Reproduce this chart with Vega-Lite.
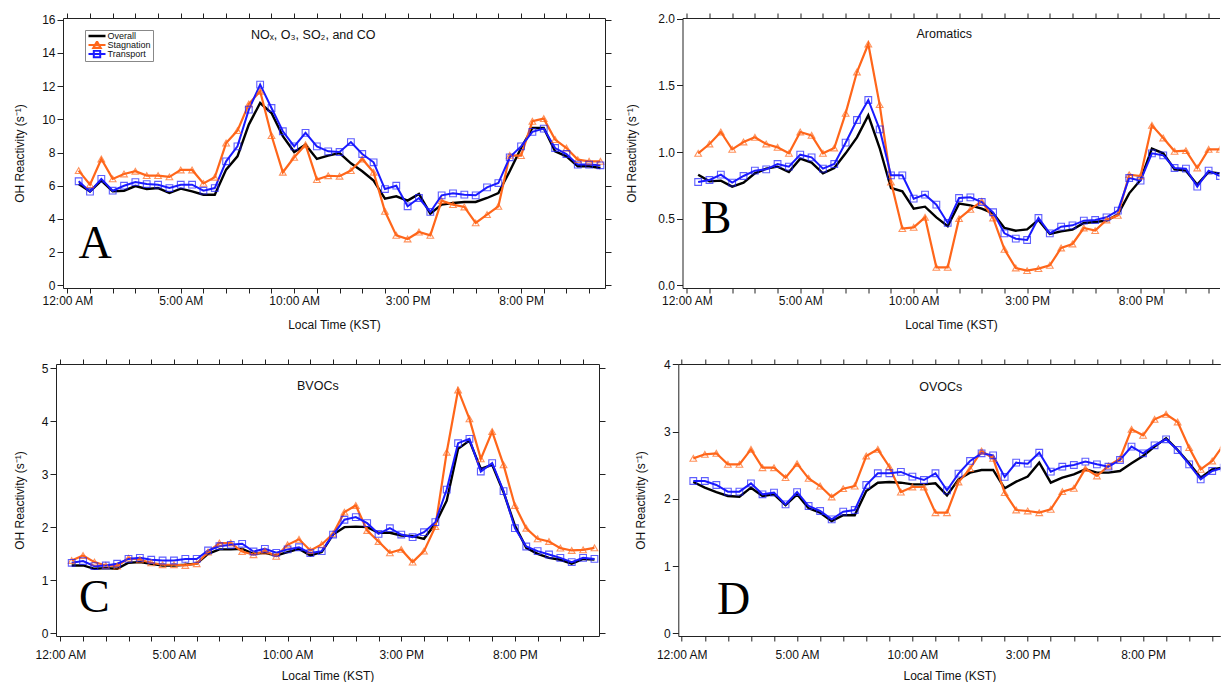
{
  "$schema": "https://vega.github.io/schema/vega-lite/v6.json",
  "padding": {"left": 0, "top": 12, "right": 0, "bottom": 0},
  "background": "white",
  "config": {
    "view": {"stroke": null},
    "font": "Liberation Sans",
    "axis": {"domainColor": "#222", "tickColor": "#222", "labelColor": "#111", "titleColor": "#111", "labelFont": "Liberation Sans", "titleFont": "Liberation Sans", "labelFontSize": 12, "titleFontSize": 12, "titleFontWeight": "normal", "grid": false, "labelFlush": false, "labelOverlap": false, "labelBound": false}
  },
  "datasets": {
    "A": [
      {"h":0.5,"Overall":6.10,"Stagnation":6.91,"Transport":6.27},{"h":1.0,"Overall":5.66,"Stagnation":6.06,"Transport":5.64},{"h":1.5,"Overall":6.31,"Stagnation":7.61,"Transport":6.41},{"h":2.0,"Overall":5.66,"Stagnation":6.41,"Transport":5.70},{"h":2.5,"Overall":5.70,"Stagnation":6.71,"Transport":6.00},{"h":3.0,"Overall":5.98,"Stagnation":6.87,"Transport":6.22},{"h":3.5,"Overall":5.80,"Stagnation":6.61,"Transport":6.10},{"h":4.0,"Overall":5.86,"Stagnation":6.61,"Transport":6.06},{"h":4.5,"Overall":5.56,"Stagnation":6.53,"Transport":5.86},{"h":5.0,"Overall":5.82,"Stagnation":6.95,"Transport":6.06},{"h":5.5,"Overall":5.66,"Stagnation":6.95,"Transport":6.06},{"h":6.0,"Overall":5.46,"Stagnation":6.14,"Transport":5.70},{"h":6.5,"Overall":5.46,"Stagnation":6.51,"Transport":5.86},{"h":7.0,"Overall":6.97,"Stagnation":8.57,"Transport":7.47},{"h":7.5,"Overall":7.77,"Stagnation":9.32,"Transport":8.37},{"h":8.0,"Overall":9.68,"Stagnation":10.92,"Transport":10.58},{"h":8.5,"Overall":10.98,"Stagnation":11.69,"Transport":12.09},{"h":9.0,"Overall":10.38,"Stagnation":9.02,"Transport":10.68},{"h":9.5,"Overall":8.98,"Stagnation":6.81,"Transport":9.28},{"h":10.0,"Overall":8.03,"Stagnation":7.71,"Transport":8.37},{"h":10.5,"Overall":8.47,"Stagnation":8.47,"Transport":9.18},{"h":11.0,"Overall":7.61,"Stagnation":6.37,"Transport":8.37},{"h":11.5,"Overall":7.81,"Stagnation":6.60,"Transport":8.07},{"h":12.0,"Overall":7.97,"Stagnation":6.57,"Transport":8.03},{"h":12.5,"Overall":7.35,"Stagnation":6.91,"Transport":8.63},{"h":13.0,"Overall":6.87,"Stagnation":7.61,"Transport":7.91},{"h":13.5,"Overall":6.31,"Stagnation":6.81,"Transport":7.41},{"h":14.0,"Overall":5.22,"Stagnation":4.46,"Transport":5.80},{"h":14.5,"Overall":5.36,"Stagnation":3.01,"Transport":6.00},{"h":15.0,"Overall":5.10,"Stagnation":2.79,"Transport":4.76},{"h":15.5,"Overall":5.50,"Stagnation":3.21,"Transport":5.26},{"h":16.0,"Overall":4.32,"Stagnation":3.01,"Transport":4.42},{"h":16.5,"Overall":4.86,"Stagnation":5.10,"Transport":5.42},{"h":17.0,"Overall":4.96,"Stagnation":4.86,"Transport":5.54},{"h":17.5,"Overall":5.02,"Stagnation":4.72,"Transport":5.46},{"h":18.0,"Overall":5.02,"Stagnation":3.76,"Transport":5.42},{"h":18.5,"Overall":5.26,"Stagnation":4.26,"Transport":5.90},{"h":19.0,"Overall":5.56,"Stagnation":4.76,"Transport":6.16},{"h":19.5,"Overall":6.87,"Stagnation":7.83,"Transport":7.71},{"h":20.0,"Overall":8.27,"Stagnation":7.81,"Transport":8.37},{"h":20.5,"Overall":9.48,"Stagnation":9.88,"Transport":9.24},{"h":21.0,"Overall":9.48,"Stagnation":10.04,"Transport":9.44},{"h":21.5,"Overall":8.07,"Stagnation":8.78,"Transport":8.27},{"h":22.0,"Overall":7.77,"Stagnation":8.27,"Transport":7.91},{"h":22.5,"Overall":7.17,"Stagnation":7.57,"Transport":7.27},{"h":23.0,"Overall":7.17,"Stagnation":7.47,"Transport":7.27},{"h":23.5,"Overall":7.07,"Stagnation":7.47,"Transport":7.23}
    ],
    "B": [
      {"h":0.5,"Overall":0.83,"Stagnation":0.99,"Transport":0.775},{"h":1.0,"Overall":0.78,"Stagnation":1.06,"Transport":0.79},{"h":1.5,"Overall":0.785,"Stagnation":1.15,"Transport":0.83},{"h":2.0,"Overall":0.74,"Stagnation":1.02,"Transport":0.77},{"h":2.5,"Overall":0.77,"Stagnation":1.075,"Transport":0.82},{"h":3.0,"Overall":0.84,"Stagnation":1.11,"Transport":0.86},{"h":3.5,"Overall":0.875,"Stagnation":1.06,"Transport":0.87},{"h":4.0,"Overall":0.89,"Stagnation":1.035,"Transport":0.91},{"h":4.5,"Overall":0.85,"Stagnation":0.99,"Transport":0.89},{"h":5.0,"Overall":0.95,"Stagnation":1.15,"Transport":0.98},{"h":5.5,"Overall":0.92,"Stagnation":1.125,"Transport":0.96},{"h":6.0,"Overall":0.84,"Stagnation":0.99,"Transport":0.875},{"h":6.5,"Overall":0.88,"Stagnation":1.03,"Transport":0.91},{"h":7.0,"Overall":0.99,"Stagnation":1.29,"Transport":1.07},{"h":7.5,"Overall":1.11,"Stagnation":1.60,"Transport":1.24},{"h":8.0,"Overall":1.275,"Stagnation":1.81,"Transport":1.39},{"h":8.5,"Overall":1.03,"Stagnation":1.355,"Transport":1.17},{"h":9.0,"Overall":0.73,"Stagnation":0.775,"Transport":0.825},{"h":9.5,"Overall":0.705,"Stagnation":0.425,"Transport":0.825},{"h":10.0,"Overall":0.575,"Stagnation":0.435,"Transport":0.65},{"h":10.5,"Overall":0.59,"Stagnation":0.51,"Transport":0.68},{"h":11.0,"Overall":0.51,"Stagnation":0.135,"Transport":0.605},{"h":11.5,"Overall":0.443,"Stagnation":0.135,"Transport":0.468},{"h":12.0,"Overall":0.613,"Stagnation":0.50,"Transport":0.655},{"h":12.5,"Overall":0.60,"Stagnation":0.57,"Transport":0.66},{"h":13.0,"Overall":0.575,"Stagnation":0.63,"Transport":0.625},{"h":13.5,"Overall":0.54,"Stagnation":0.505,"Transport":0.548},{"h":14.0,"Overall":0.43,"Stagnation":0.27,"Transport":0.39},{"h":14.5,"Overall":0.41,"Stagnation":0.13,"Transport":0.35},{"h":15.0,"Overall":0.42,"Stagnation":0.11,"Transport":0.34},{"h":15.5,"Overall":0.49,"Stagnation":0.125,"Transport":0.505},{"h":16.0,"Overall":0.385,"Stagnation":0.15,"Transport":0.39},{"h":16.5,"Overall":0.405,"Stagnation":0.28,"Transport":0.44},{"h":17.0,"Overall":0.418,"Stagnation":0.31,"Transport":0.45},{"h":17.5,"Overall":0.468,"Stagnation":0.43,"Transport":0.485},{"h":18.0,"Overall":0.475,"Stagnation":0.41,"Transport":0.49},{"h":18.5,"Overall":0.485,"Stagnation":0.49,"Transport":0.51},{"h":19.0,"Overall":0.53,"Stagnation":0.525,"Transport":0.56},{"h":19.5,"Overall":0.69,"Stagnation":0.83,"Transport":0.805},{"h":20.0,"Overall":0.79,"Stagnation":0.82,"Transport":0.785},{"h":20.5,"Overall":1.025,"Stagnation":1.20,"Transport":0.99},{"h":21.0,"Overall":0.99,"Stagnation":1.105,"Transport":0.975},{"h":21.5,"Overall":0.87,"Stagnation":1.005,"Transport":0.88},{"h":22.0,"Overall":0.86,"Stagnation":1.01,"Transport":0.875},{"h":22.5,"Overall":0.755,"Stagnation":0.88,"Transport":0.74},{"h":23.0,"Overall":0.85,"Stagnation":1.02,"Transport":0.86},{"h":23.5,"Overall":0.84,"Stagnation":1.02,"Transport":0.82}
    ],
    "C": [
      {"h":0.5,"Overall":1.277,"Stagnation":1.37,"Transport":1.327},{"h":1.0,"Overall":1.277,"Stagnation":1.465,"Transport":1.36},{"h":1.5,"Overall":1.214,"Stagnation":1.34,"Transport":1.264},{"h":2.0,"Overall":1.226,"Stagnation":1.277,"Transport":1.277},{"h":2.5,"Overall":1.214,"Stagnation":1.264,"Transport":1.31},{"h":3.0,"Overall":1.327,"Stagnation":1.415,"Transport":1.40},{"h":3.5,"Overall":1.34,"Stagnation":1.384,"Transport":1.42},{"h":4.0,"Overall":1.31,"Stagnation":1.327,"Transport":1.384},{"h":4.5,"Overall":1.277,"Stagnation":1.29,"Transport":1.37},{"h":5.0,"Overall":1.277,"Stagnation":1.29,"Transport":1.37},{"h":5.5,"Overall":1.29,"Stagnation":1.277,"Transport":1.40},{"h":6.0,"Overall":1.31,"Stagnation":1.31,"Transport":1.40},{"h":6.5,"Overall":1.497,"Stagnation":1.53,"Transport":1.56},{"h":7.0,"Overall":1.58,"Stagnation":1.70,"Transport":1.64},{"h":7.5,"Overall":1.58,"Stagnation":1.70,"Transport":1.667},{"h":8.0,"Overall":1.59,"Stagnation":1.54,"Transport":1.686},{"h":8.5,"Overall":1.497,"Stagnation":1.48,"Transport":1.54},{"h":9.0,"Overall":1.516,"Stagnation":1.55,"Transport":1.59},{"h":9.5,"Overall":1.465,"Stagnation":1.45,"Transport":1.516},{"h":10.0,"Overall":1.53,"Stagnation":1.667,"Transport":1.58},{"h":10.5,"Overall":1.59,"Stagnation":1.77,"Transport":1.62},{"h":11.0,"Overall":1.465,"Stagnation":1.56,"Transport":1.51},{"h":11.5,"Overall":1.53,"Stagnation":1.673,"Transport":1.547},{"h":12.0,"Overall":1.86,"Stagnation":1.874,"Transport":1.86},{"h":12.5,"Overall":2.0,"Stagnation":2.283,"Transport":2.14},{"h":13.0,"Overall":2.01,"Stagnation":2.41,"Transport":2.19},{"h":13.5,"Overall":2.0,"Stagnation":1.937,"Transport":2.075},{"h":14.0,"Overall":1.893,"Stagnation":1.73,"Transport":1.874},{"h":14.5,"Overall":1.893,"Stagnation":1.516,"Transport":1.98},{"h":15.0,"Overall":1.843,"Stagnation":1.58,"Transport":1.86},{"h":15.5,"Overall":1.83,"Stagnation":1.34,"Transport":1.81},{"h":16.0,"Overall":1.78,"Stagnation":1.547,"Transport":1.905},{"h":16.5,"Overall":2.063,"Stagnation":2.01,"Transport":2.094},{"h":17.0,"Overall":2.50,"Stagnation":3.415,"Transport":2.71},{"h":17.5,"Overall":3.478,"Stagnation":4.59,"Transport":3.585},{"h":18.0,"Overall":3.635,"Stagnation":4.044,"Transport":3.667},{"h":18.5,"Overall":3.10,"Stagnation":3.29,"Transport":3.05},{"h":19.0,"Overall":3.176,"Stagnation":3.805,"Transport":3.21},{"h":19.5,"Overall":2.66,"Stagnation":3.176,"Transport":2.68},{"h":20.0,"Overall":2.03,"Stagnation":2.41,"Transport":1.98},{"h":20.5,"Overall":1.61,"Stagnation":1.98,"Transport":1.635},{"h":21.0,"Overall":1.497,"Stagnation":1.78,"Transport":1.547},{"h":21.5,"Overall":1.42,"Stagnation":1.73,"Transport":1.484},{"h":22.0,"Overall":1.384,"Stagnation":1.604,"Transport":1.42},{"h":22.5,"Overall":1.31,"Stagnation":1.56,"Transport":1.34},{"h":23.0,"Overall":1.40,"Stagnation":1.572,"Transport":1.42},{"h":23.5,"Overall":1.39,"Stagnation":1.61,"Transport":1.40}
    ],
    "D": [
      {"h":0.5,"Overall":2.25,"Stagnation":2.602,"Transport":2.265},{"h":1.0,"Overall":2.166,"Stagnation":2.662,"Transport":2.265},{"h":1.5,"Overall":2.10,"Stagnation":2.677,"Transport":2.206},{"h":2.0,"Overall":2.042,"Stagnation":2.513,"Transport":2.107},{"h":2.5,"Overall":2.032,"Stagnation":2.513,"Transport":2.107},{"h":3.0,"Overall":2.166,"Stagnation":2.736,"Transport":2.23},{"h":3.5,"Overall":2.042,"Stagnation":2.463,"Transport":2.067},{"h":4.0,"Overall":2.067,"Stagnation":2.463,"Transport":2.092},{"h":4.5,"Overall":1.908,"Stagnation":2.315,"Transport":1.918},{"h":5.0,"Overall":2.067,"Stagnation":2.523,"Transport":2.10},{"h":5.5,"Overall":1.859,"Stagnation":2.305,"Transport":1.893},{"h":6.0,"Overall":1.794,"Stagnation":2.19,"Transport":1.819},{"h":6.5,"Overall":1.67,"Stagnation":2.027,"Transport":1.695},{"h":7.0,"Overall":1.755,"Stagnation":2.151,"Transport":1.809},{"h":7.5,"Overall":1.755,"Stagnation":2.19,"Transport":1.834},{"h":8.0,"Overall":2.116,"Stagnation":2.637,"Transport":2.206},{"h":8.5,"Overall":2.24,"Stagnation":2.736,"Transport":2.38},{"h":9.0,"Overall":2.25,"Stagnation":2.478,"Transport":2.38},{"h":9.5,"Overall":2.24,"Stagnation":2.10,"Transport":2.40},{"h":10.0,"Overall":2.215,"Stagnation":2.176,"Transport":2.33},{"h":10.5,"Overall":2.215,"Stagnation":2.176,"Transport":2.28},{"h":11.0,"Overall":2.23,"Stagnation":1.794,"Transport":2.38},{"h":11.5,"Overall":2.052,"Stagnation":1.794,"Transport":2.126},{"h":12.0,"Overall":2.29,"Stagnation":2.25,"Transport":2.374},{"h":12.5,"Overall":2.389,"Stagnation":2.449,"Transport":2.563},{"h":13.0,"Overall":2.429,"Stagnation":2.711,"Transport":2.677},{"h":13.5,"Overall":2.429,"Stagnation":2.602,"Transport":2.647},{"h":14.0,"Overall":2.156,"Stagnation":2.092,"Transport":2.325},{"h":14.5,"Overall":2.255,"Stagnation":1.834,"Transport":2.538},{"h":15.0,"Overall":2.33,"Stagnation":1.819,"Transport":2.523},{"h":15.5,"Overall":2.538,"Stagnation":1.794,"Transport":2.686},{"h":16.0,"Overall":2.24,"Stagnation":1.844,"Transport":2.404},{"h":16.5,"Overall":2.315,"Stagnation":2.107,"Transport":2.478},{"h":17.0,"Overall":2.364,"Stagnation":2.156,"Transport":2.503},{"h":17.5,"Overall":2.439,"Stagnation":2.449,"Transport":2.553},{"h":18.0,"Overall":2.389,"Stagnation":2.34,"Transport":2.513},{"h":18.5,"Overall":2.389,"Stagnation":2.488,"Transport":2.478},{"h":19.0,"Overall":2.414,"Stagnation":2.597,"Transport":2.577},{"h":19.5,"Overall":2.528,"Stagnation":3.033,"Transport":2.776},{"h":20.0,"Overall":2.637,"Stagnation":2.944,"Transport":2.677},{"h":20.5,"Overall":2.776,"Stagnation":3.182,"Transport":2.796},{"h":21.0,"Overall":2.90,"Stagnation":3.257,"Transport":2.885},{"h":21.5,"Overall":2.726,"Stagnation":3.143,"Transport":2.726},{"h":22.0,"Overall":2.528,"Stagnation":2.761,"Transport":2.513},{"h":22.5,"Overall":2.315,"Stagnation":2.439,"Transport":2.29},{"h":23.0,"Overall":2.439,"Stagnation":2.563,"Transport":2.414},{"h":23.5,"Overall":2.463,"Stagnation":2.81,"Transport":2.463}
    ]
  },
  "resolve": {"scale": {"color": "independent", "shape": "independent", "strokeWidth": "independent"}, "legend": {"color": "independent", "shape": "independent", "strokeWidth": "independent"}},
  "spacing": 28,
  "vconcat": [
    {
      "spacing": 12,
      "resolve": {"scale": {"color": "independent", "shape": "independent", "strokeWidth": "independent"}, "legend": {"color": "independent", "shape": "independent", "strokeWidth": "independent"}},
      "hconcat": [
        {"width": 1, "height": 1, "data": {"values": []}, "mark": "point"},
        {
          "spacing": 13.5,
          "resolve": {"scale": {"color": "independent", "shape": "independent", "strokeWidth": "independent"}, "legend": {"color": "independent", "shape": "independent", "strokeWidth": "independent"}},
          "hconcat": [
            {
              "width": 542, "height": 270,
              "data": {"name": "A"},
              "title": {"text": "NOₓ, O₃, SO₂, and CO", "anchor": "start", "frame": "group", "dx": 188, "offset": -35, "baseline": "middle", "fontSize": 12.5, "fontWeight": "normal", "font": "Liberation Sans", "color": "#111"},
              "layer": [
                {
                  "transform": [{"fold": ["Overall", "Stagnation", "Transport"], "as": ["s", "v"]}],
                  "mark": {"type": "line", "clip": true},
                  "encoding": {
                    "x": {"field": "h", "type": "quantitative", "scale": {"domain": [-0.19, 23.7], "nice": false, "zero": false}, "axis": {"orient": "bottom", "values": [0,1,2,3,4,5,6,7,8,9,10,11,12,13,14,15,16,17,18,19,20,21,22,23], "labelExpr": "datum.value == 0 ? '12:00 AM' : datum.value == 5 ? '5:00 AM' : datum.value == 10 ? '10:00 AM' : datum.value == 15 ? '3:00 PM' : datum.value == 20 ? '8:00 PM' : ''", "title": "Local Time (KST)", "tickSize": 5, "labelPadding": 2, "titlePadding": 13}},
                    "y": {"field": "v", "type": "quantitative", "scale": {"domain": [-0.16, 16.1], "nice": false, "zero": false}, "axis": {"orient": "left", "values": [0,2,4,6,8,10,12,14,16], "title": "OH Reactivity (s⁻¹)", "tickSize": 6, "labelPadding": 2, "titlePadding": 15.5}},
                    "color": {"field": "s", "type": "nominal", "scale": {"domain": ["Overall", "Stagnation", "Transport"], "range": ["#000000", "#ff661a", "#1a1aff"]},
                      "legend": {"orient": "none", "legendX": 22, "legendY": 12, "title": null, "strokeColor": "#888", "fillColor": "white", "padding": 2, "labelFont": "Liberation Sans", "labelFontSize": 9, "labelColor": "#111", "symbolSize": 64, "symbolOffset": 4.5, "labelOffset": 5, "rowPadding": 0, "clipHeight": 8, "symbolStrokeWidth": 1.4, "symbolFillColor": "transparent",
                        "encode": {"symbols": {"update": {"shape": {"signal": "datum.value === 'Overall' ? 'M-2.125,0H2.125' : datum.value === 'Stagnation' ? 'M-2.125,0H2.125M0,-0.85L0.9,0.7L-0.9,0.7Z' : 'M-2.125,0H2.125M-0.8,-0.8H0.8V0.8H-0.8Z'"}, "fill": {"value": "transparent"}}}}}},
                    "strokeWidth": {"field": "s", "type": "nominal", "scale": {"domain": ["Overall", "Stagnation", "Transport"], "range": [2.4, 2.0, 2.6]}, "legend": null}
                  }
                },
                {
                  "transform": [{"fold": ["Overall", "Stagnation", "Transport"], "as": ["s", "v"]}, {"filter": "datum.s != 'Overall'"}],
                  "mark": {"type": "point", "filled": false, "clip": true, "size": 45, "strokeWidth": 1.1},
                  "encoding": {
                    "x": {"field": "h", "type": "quantitative", "axis": {"orient": "top", "values": [0,1,2,3,4,5,6,7,8,9,10,11,12,13,14,15,16,17,18,19,20,21,22,23], "labels": false, "title": null, "tickSize": 5}},
                    "y": {"field": "v", "type": "quantitative", "axis": {"orient": "right", "values": [0,2,4,6,8,10,12,14,16], "labels": false, "title": null, "tickSize": 6}},
                    "color": {"field": "s", "type": "nominal"},
                    "shape": {"field": "s", "type": "nominal", "scale": {"domain": ["Stagnation", "Transport"], "range": ["triangle-up", "square"]}, "legend": null}
                  }
                },
                {
                  "data": {"values": [{"label": "A"}]},
                  "mark": {"type": "text", "font": "Liberation Serif", "fontSize": 46, "baseline": "alphabetic", "align": "center", "color": "#000"},
                  "encoding": {"text": {"field": "label"}, "x": {"datum": 1.23, "axis": null}, "y": {"datum": 1.64, "axis": null}}
                }
              ],
              "resolve": {"axis": {"x": "independent", "y": "independent"}}
            },
            {
              "width": 537, "height": 270,
              "data": {"name": "B"},
              "title": {"text": "Aromatics", "anchor": "start", "frame": "group", "dx": 234, "offset": -34, "baseline": "middle", "fontSize": 12.5, "fontWeight": "normal", "font": "Liberation Sans", "color": "#111"},
              "layer": [
                {
                  "transform": [{"fold": ["Overall", "Stagnation", "Transport"], "as": ["s", "v"]}],
                  "mark": {"type": "line", "clip": true},
                  "encoding": {
                    "x": {"field": "h", "type": "quantitative", "scale": {"domain": [-0.19, 23.48], "nice": false, "zero": false}, "axis": {"orient": "bottom", "values": [0,1,2,3,4,5,6,7,8,9,10,11,12,13,14,15,16,17,18,19,20,21,22,23], "labelExpr": "datum.value == 0 ? '12:00 AM' : datum.value == 5 ? '5:00 AM' : datum.value == 10 ? '10:00 AM' : datum.value == 15 ? '3:00 PM' : datum.value == 20 ? '8:00 PM' : ''", "title": "Local Time (KST)", "tickSize": 5, "labelPadding": 2, "titlePadding": 13}},
                    "y": {"field": "v", "type": "quantitative", "scale": {"domain": [-0.02, 2.005], "nice": false, "zero": false}, "axis": {"orient": "left", "values": [0, 0.5, 1, 1.5, 2], "format": ".1f", "title": "OH Reactivity (s⁻¹)", "tickSize": 6, "labelPadding": 2, "titlePadding": 18.9}},
                    "color": {"field": "s", "type": "nominal", "scale": {"domain": ["Overall", "Stagnation", "Transport"], "range": ["#000000", "#ff661a", "#1a1aff"]}, "legend": null},
                    "strokeWidth": {"field": "s", "type": "nominal", "scale": {"domain": ["Overall", "Stagnation", "Transport"], "range": [2.4, 2.0, 2.6]}, "legend": null}
                  }
                },
                {
                  "transform": [{"fold": ["Overall", "Stagnation", "Transport"], "as": ["s", "v"]}, {"filter": "datum.s != 'Overall'"}],
                  "mark": {"type": "point", "filled": false, "clip": true, "size": 45, "strokeWidth": 1.1},
                  "encoding": {
                    "x": {"field": "h", "type": "quantitative", "axis": {"orient": "top", "values": [0,1,2,3,4,5,6,7,8,9,10,11,12,13,14,15,16,17,18,19,20,21,22,23], "labels": false, "title": null, "tickSize": 5}},
                    "y": {"field": "v", "type": "quantitative", "axis": null},
                    "color": {"field": "s", "type": "nominal", "legend": null},
                    "shape": {"field": "s", "type": "nominal", "scale": {"domain": ["Stagnation", "Transport"], "range": ["triangle-up", "square"]}, "legend": null}
                  }
                },
                {
                  "data": {"values": [{"label": "B"}]},
                  "mark": {"type": "text", "font": "Liberation Serif", "fontSize": 46, "baseline": "alphabetic", "align": "center", "color": "#000"},
                  "encoding": {"text": {"field": "label"}, "x": {"datum": 1.29, "axis": null}, "y": {"datum": 0.39, "axis": null}}
                }
              ],
              "resolve": {"axis": {"x": "independent", "y": "independent"}}
            }
          ]
        }
      ]
    },
    {
      "spacing": 12,
      "resolve": {"scale": {"color": "independent", "shape": "independent", "strokeWidth": "independent"}, "legend": {"color": "independent", "shape": "independent", "strokeWidth": "independent"}},
      "hconcat": [
        {"width": 1, "height": 1, "data": {"values": []}, "mark": "point"},
        {
          "spacing": 27.3,
          "resolve": {"scale": {"color": "independent", "shape": "independent", "strokeWidth": "independent"}, "legend": {"color": "independent", "shape": "independent", "strokeWidth": "independent"}},
          "hconcat": [
            {
              "width": 543, "height": 272,
              "data": {"name": "C"},
              "title": {"text": "BVOCs", "anchor": "start", "frame": "group", "dx": 241, "offset": -40, "baseline": "middle", "fontSize": 12.5, "fontWeight": "normal", "font": "Liberation Sans", "color": "#111"},
              "layer": [
                {
                  "transform": [{"fold": ["Overall", "Stagnation", "Transport"], "as": ["s", "v"]}],
                  "mark": {"type": "line", "clip": true},
                  "encoding": {
                    "x": {"field": "h", "type": "quantitative", "scale": {"domain": [-0.19, 23.7], "nice": false, "zero": false}, "axis": {"orient": "bottom", "values": [0,1,2,3,4,5,6,7,8,9,10,11,12,13,14,15,16,17,18,19,20,21,22,23], "labelExpr": "datum.value == 0 ? '12:00 AM' : datum.value == 5 ? '5:00 AM' : datum.value == 10 ? '10:00 AM' : datum.value == 15 ? '3:00 PM' : datum.value == 20 ? '8:00 PM' : ''", "title": "Local Time (KST)", "tickSize": 5, "labelPadding": 8.7, "titlePadding": 10}},
                    "y": {"field": "v", "type": "quantitative", "scale": {"domain": [-0.055, 5.08], "nice": false, "zero": false}, "axis": {"orient": "left", "values": [0,1,2,3,4,5], "title": "OH Reactivity (s⁻¹)", "tickSize": 6, "labelPadding": 2, "titlePadding": 14.8}},
                    "color": {"field": "s", "type": "nominal", "scale": {"domain": ["Overall", "Stagnation", "Transport"], "range": ["#000000", "#ff661a", "#1a1aff"]}, "legend": null},
                    "strokeWidth": {"field": "s", "type": "nominal", "scale": {"domain": ["Overall", "Stagnation", "Transport"], "range": [2.4, 2.0, 2.6]}, "legend": null}
                  }
                },
                {
                  "transform": [{"fold": ["Overall", "Stagnation", "Transport"], "as": ["s", "v"]}, {"filter": "datum.s != 'Overall'"}],
                  "mark": {"type": "point", "filled": false, "clip": true, "size": 45, "strokeWidth": 1.1},
                  "encoding": {
                    "x": {"field": "h", "type": "quantitative", "axis": {"orient": "top", "values": [0,1,2,3,4,5,6,7,8,9,10,11,12,13,14,15,16,17,18,19,20,21,22,23], "labels": false, "title": null, "tickSize": 5}},
                    "y": {"field": "v", "type": "quantitative", "axis": {"orient": "right", "values": [0,1,2,3,4,5], "labels": false, "title": null, "tickSize": 6}},
                    "color": {"field": "s", "type": "nominal", "legend": null},
                    "shape": {"field": "s", "type": "nominal", "scale": {"domain": ["Stagnation", "Transport"], "range": ["triangle-up", "square"]}, "legend": null}
                  }
                },
                {
                  "data": {"values": [{"label": "C"}]},
                  "mark": {"type": "text", "font": "Liberation Serif", "fontSize": 46, "baseline": "alphabetic", "align": "center", "color": "#000"},
                  "encoding": {"text": {"field": "label"}, "x": {"datum": 1.5, "axis": null}, "y": {"datum": 0.4, "axis": null}}
                }
              ],
              "resolve": {"axis": {"x": "independent", "y": "independent"}}
            },
            {
              "width": 542, "height": 272,
              "data": {"name": "D"},
              "title": {"text": "OVOCs", "anchor": "start", "frame": "group", "dx": 241, "offset": -41, "baseline": "middle", "fontSize": 12.5, "fontWeight": "normal", "font": "Liberation Sans", "color": "#111"},
              "layer": [
                {
                  "transform": [{"fold": ["Overall", "Stagnation", "Transport"], "as": ["s", "v"]}],
                  "mark": {"type": "line", "clip": true},
                  "encoding": {
                    "x": {"field": "h", "type": "quantitative", "scale": {"domain": [-0.15, 23.35], "nice": false, "zero": false}, "axis": {"orient": "bottom", "values": [0,1,2,3,4,5,6,7,8,9,10,11,12,13,14,15,16,17,18,19,20,21,22,23], "labelExpr": "datum.value == 0 ? '12:00 AM' : datum.value == 5 ? '5:00 AM' : datum.value == 10 ? '10:00 AM' : datum.value == 15 ? '3:00 PM' : datum.value == 20 ? '8:00 PM' : ''", "title": "Local Time (KST)", "tickSize": 5, "labelPadding": 8.7, "titlePadding": 10}},
                    "y": {"field": "v", "type": "quantitative", "scale": {"domain": [-0.04, 4.005], "nice": false, "zero": false}, "axis": {"orient": "left", "values": [0,1,2,3,4], "title": "OH Reactivity (s⁻¹)", "tickSize": 6, "labelPadding": 2, "titlePadding": 16.4}},
                    "color": {"field": "s", "type": "nominal", "scale": {"domain": ["Overall", "Stagnation", "Transport"], "range": ["#000000", "#ff661a", "#1a1aff"]}, "legend": null},
                    "strokeWidth": {"field": "s", "type": "nominal", "scale": {"domain": ["Overall", "Stagnation", "Transport"], "range": [2.4, 2.0, 2.6]}, "legend": null}
                  }
                },
                {
                  "transform": [{"fold": ["Overall", "Stagnation", "Transport"], "as": ["s", "v"]}, {"filter": "datum.s != 'Overall'"}],
                  "mark": {"type": "point", "filled": false, "clip": true, "size": 45, "strokeWidth": 1.1},
                  "encoding": {
                    "x": {"field": "h", "type": "quantitative", "axis": {"orient": "top", "values": [0,1,2,3,4,5,6,7,8,9,10,11,12,13,14,15,16,17,18,19,20,21,22,23], "labels": false, "title": null, "tickSize": 5}},
                    "y": {"field": "v", "type": "quantitative", "axis": null},
                    "color": {"field": "s", "type": "nominal", "legend": null},
                    "shape": {"field": "s", "type": "nominal", "scale": {"domain": ["Stagnation", "Transport"], "range": ["triangle-up", "square"]}, "legend": null}
                  }
                },
                {
                  "data": {"values": [{"label": "D"}]},
                  "mark": {"type": "text", "font": "Liberation Serif", "fontSize": 46, "baseline": "alphabetic", "align": "center", "color": "#000"},
                  "encoding": {"text": {"field": "label"}, "x": {"datum": 2.25, "axis": null}, "y": {"datum": 0.28, "axis": null}}
                }
              ],
              "resolve": {"axis": {"x": "independent", "y": "independent"}}
            }
          ]
        }
      ]
    }
  ]
}
